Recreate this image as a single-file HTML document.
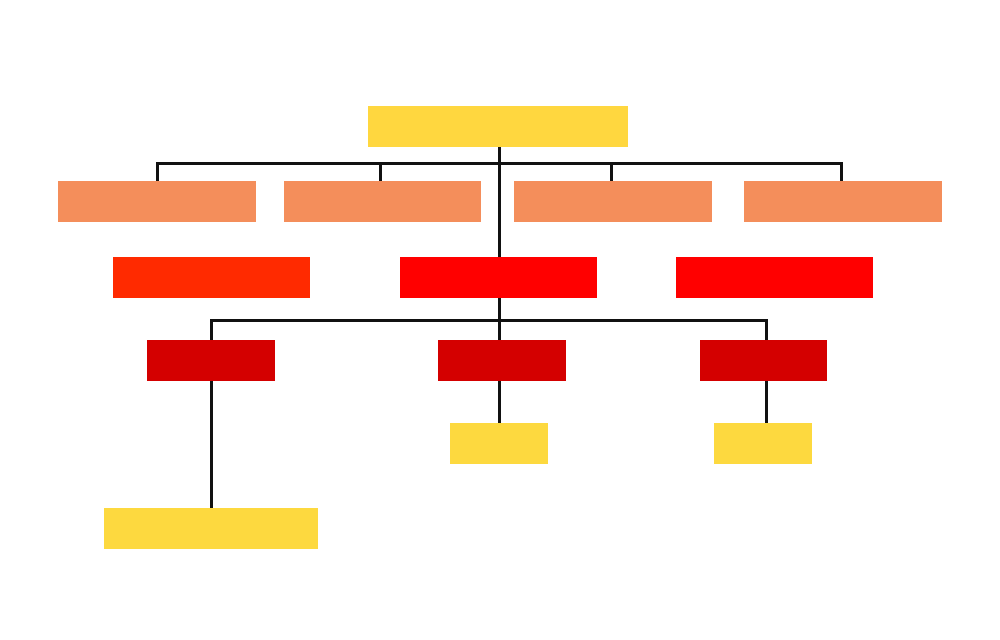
<!DOCTYPE html>
<html><head><style>
body{margin:0;width:1000px;height:640px;background:#fff;position:relative;overflow:hidden}
div{position:absolute}
.l{background:#111}
</style></head><body>
<!-- lines -->
<div class="l" style="left:498px;top:147px;width:3px;height:175px"></div>
<div class="l" style="left:156px;top:162px;width:687px;height:3px"></div>
<div class="l" style="left:156px;top:162px;width:3px;height:19px"></div>
<div class="l" style="left:379px;top:162px;width:3px;height:19px"></div>
<div class="l" style="left:610px;top:162px;width:3px;height:19px"></div>
<div class="l" style="left:840px;top:162px;width:3px;height:19px"></div>
<div class="l" style="left:210px;top:319px;width:558px;height:3px"></div>
<div class="l" style="left:210px;top:319px;width:3px;height:21px"></div>
<div class="l" style="left:498px;top:319px;width:3px;height:21px"></div>
<div class="l" style="left:765px;top:319px;width:3px;height:21px"></div>
<div class="l" style="left:210px;top:381px;width:3px;height:127px"></div>
<div class="l" style="left:498px;top:381px;width:3px;height:42px"></div>
<div class="l" style="left:765px;top:381px;width:3px;height:42px"></div>
<!-- boxes -->
<div style="left:368px;top:106px;width:260px;height:41px;background:#FFD73F"></div>
<div style="left:58px;top:181px;width:198px;height:41px;background:#F48E5B"></div>
<div style="left:284px;top:181px;width:197px;height:41px;background:#F48E5B"></div>
<div style="left:514px;top:181px;width:198px;height:41px;background:#F48E5B"></div>
<div style="left:744px;top:181px;width:198px;height:41px;background:#F48E5B"></div>
<div style="left:113px;top:257px;width:197px;height:41px;background:#FF2A00"></div>
<div style="left:400px;top:257px;width:197px;height:41px;background:#FF0000"></div>
<div style="left:676px;top:257px;width:197px;height:41px;background:#FF0000"></div>
<div style="left:147px;top:340px;width:128px;height:41px;background:#D40000"></div>
<div style="left:438px;top:340px;width:128px;height:41px;background:#D40000"></div>
<div style="left:700px;top:340px;width:127px;height:41px;background:#D40000"></div>
<div style="left:450px;top:423px;width:98px;height:41px;background:#FDD93F"></div>
<div style="left:714px;top:423px;width:98px;height:41px;background:#FDD93F"></div>
<div style="left:104px;top:508px;width:214px;height:41px;background:#FDD93F"></div>
</body></html>
